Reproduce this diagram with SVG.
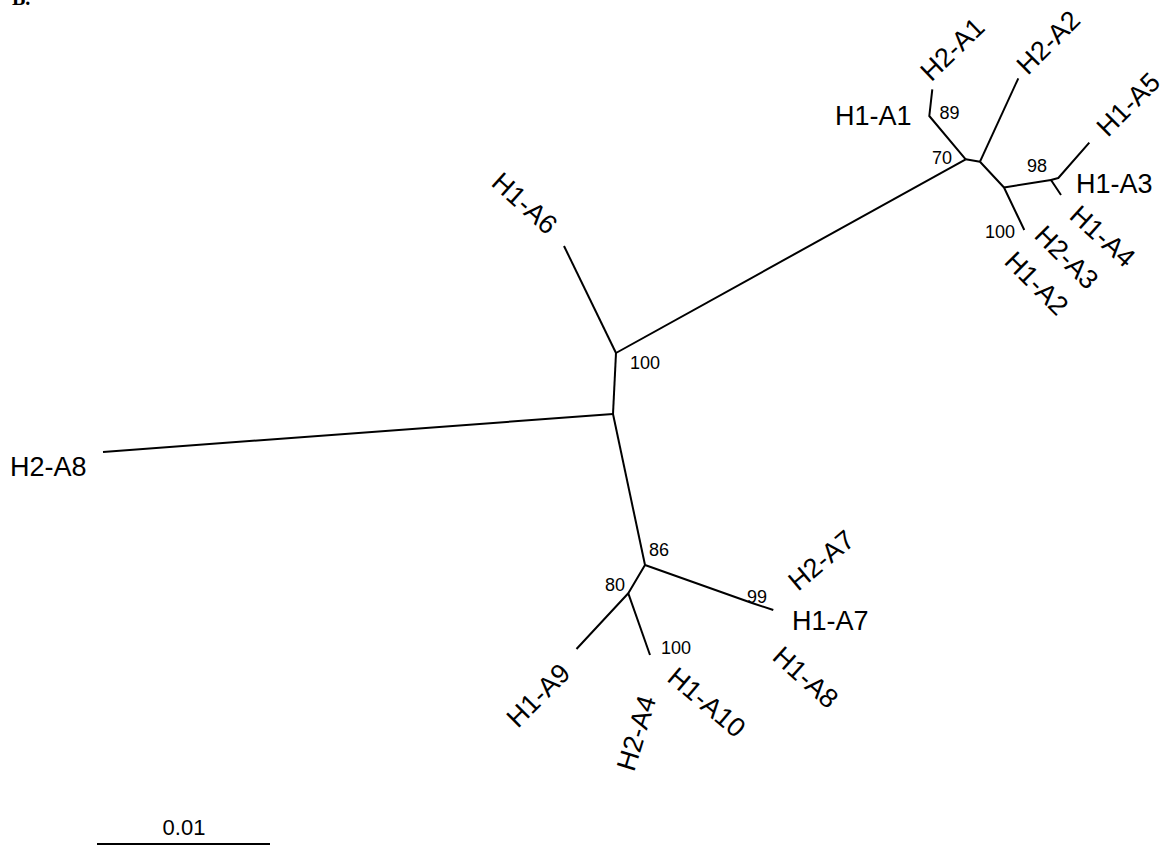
<svg xmlns="http://www.w3.org/2000/svg" width="1168" height="846" viewBox="0 0 1168 846">
<style>
.br{stroke:#000;stroke-width:2;fill:none;stroke-linejoin:round;stroke-linecap:butt}
.lbl{font-family:"Liberation Sans",Arial,Helvetica,sans-serif;font-size:27px;fill:#000}
.bs{font-family:"Liberation Sans",Arial,Helvetica,sans-serif;font-size:18px;fill:#000}
.mid{text-anchor:middle}
</style>
<rect width="1168" height="846" fill="#fff"/>
<text x="12" y="5" font-family="Liberation Serif,serif" font-weight="bold" font-size="20">B.</text>
<g id="connectors">
<polyline class="br" points="616,353 613,414"/>
<polyline class="br" points="613,414 103,452"/>
<polyline class="br" points="616,353 564,246"/>
<polyline class="br" points="616,353 965.7,159.3"/>
<polyline class="br" points="965.7,159.3 929.3,116 932.3,89.3"/>
<polyline class="br" points="965.7,159.3 980,161.7"/>
<polyline class="br" points="980,161.7 1018.3,78.3"/>
<polyline class="br" points="980,161.7 1004,187.5 1024.3,230"/>
<polyline class="br" points="1004,187.5 1051,180 1061,195"/>
<polyline class="br" points="1051,180 1058.3,178 1089.3,142.7"/>
<polyline class="br" points="613,414 645,565"/>
<polyline class="br" points="645,565 752,603 773.3,610"/>
<polyline class="br" points="645,565 628.3,593.3 576.5,649"/>
<polyline class="br" points="628.3,593.3 650,655"/>
</g>
<g id="leaf-H2-A8"><text class="lbl" x="10" y="476">H2-A8</text></g>
<g id="leaf-H1-A6"><text class="lbl mid" transform="translate(525,203) rotate(42)" y="9.7">H1-A6</text></g>
<g id="leaf-H1-A1"><text class="lbl" x="835" y="125">H1-A1</text></g>
<g id="leaf-H2-A1"><text class="lbl mid" transform="translate(952,49) rotate(-44)" y="9.7">H2-A1</text></g>
<g id="leaf-H2-A2"><text class="lbl mid" transform="translate(1048,42) rotate(-45)" y="9.7">H2-A2</text></g>
<g id="leaf-H1-A5"><text class="lbl mid" transform="translate(1128,104) rotate(-45)" y="9.7">H1-A5</text></g>
<g id="leaf-H1-A3"><text class="lbl" x="1076" y="193">H1-A3</text></g>
<g id="leaf-H1-A4"><text class="lbl mid" transform="translate(1103,236) rotate(42)" y="9.7">H1-A4</text></g>
<g id="leaf-H2-A3"><text class="lbl mid" transform="translate(1067,257) rotate(45)" y="9.7">H2-A3</text></g>
<g id="leaf-H1-A2"><text class="lbl mid" transform="translate(1037,283) rotate(45)" y="9.7">H1-A2</text></g>
<g id="leaf-H2-A7"><text class="lbl mid" transform="translate(821,560) rotate(-40)" y="9.7">H2-A7</text></g>
<g id="leaf-H1-A7"><text class="lbl" x="792" y="630">H1-A7</text></g>
<g id="leaf-H1-A8"><text class="lbl mid" transform="translate(806,677) rotate(42)" y="9.7">H1-A8</text></g>
<g id="leaf-H1-A9"><text class="lbl mid" transform="translate(538,695) rotate(-45)" y="9.7">H1-A9</text></g>
<g id="leaf-H2-A4"><text class="lbl mid" transform="translate(636,733) rotate(-73)" y="9.7">H2-A4</text></g>
<g id="leaf-H1-A10"><text class="lbl mid" transform="translate(707,702) rotate(40)" y="9.7">H1-A10</text></g>
<g id="node-100a"><text class="bs" x="630" y="369">100</text></g>
<g id="node-70"><text class="bs" x="932" y="164">70</text></g>
<g id="node-89"><text class="bs" x="939.5" y="118.5">89</text></g>
<g id="node-98"><text class="bs" x="1027" y="171.5">98</text></g>
<g id="node-100b"><text class="bs" x="985" y="238">100</text></g>
<g id="node-86"><text class="bs" x="649" y="556">86</text></g>
<g id="node-80"><text class="bs" x="605" y="590.5">80</text></g>
<g id="node-99"><text class="bs" x="747" y="603">99</text></g>
<g id="node-100c"><text class="bs" x="661" y="654">100</text></g>
<g id="scale-bar">
<line class="br" x1="97" y1="844" x2="270" y2="844"/>
<text class="lbl mid" x="184" y="835" style="font-size:22px">0.01</text>
</g>
</svg>
